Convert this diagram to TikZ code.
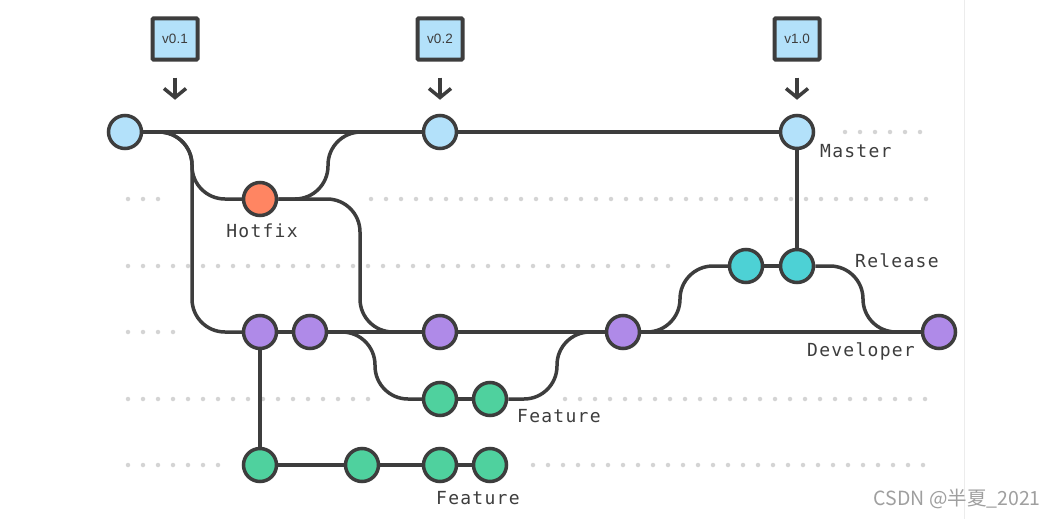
\documentclass[tikz,border=0pt]{standalone}
\usepackage{fontspec}
\setmainfont{Liberation Sans}
\newfontfamily\labfont[LetterSpace=7]{DejaVu Sans Mono}
\newfontfamily\cjk{Noto Sans CJK SC}
\usetikzlibrary{backgrounds,arrows.meta}
\definecolor{ink}{HTML}{3D3D3D}
\definecolor{cblue}{HTML}{B3E1FA}
\definecolor{corange}{HTML}{FF8562}
\definecolor{cpurple}{HTML}{AF8AE8}
\definecolor{cteal}{HTML}{4DD1D5}
\definecolor{cgreen}{HTML}{4FD19E}
\definecolor{cdot}{HTML}{D4D4D4}
\tikzset{
  commit/.style={circle, draw=ink, line width=3.5pt, minimum size=33pt, inner sep=0pt},
  cmaster/.style={commit, fill=cblue},
  chot/.style={commit, fill=corange},
  crel/.style={commit, fill=cteal},
  cdev/.style={commit, fill=cpurple},
  cfeat/.style={commit, fill=cgreen},
  edge/.style={draw=ink, line width=3.5pt, rounded corners=33pt},
  tagbox/.style={draw=ink, fill=cblue, line width=4pt, minimum width=45pt, minimum height=41pt, inner sep=0pt, font=\fontsize{13.5}{15}\selectfont, text=ink, rounded corners=1pt},
  tagarrow/.style={draw=ink, line width=3.5pt, -{Straight Barb[length=9pt, width=22pt, line width=3.5pt]}},
  lab/.style={font=\labfont\fontsize{18}{20}\selectfont, text=ink, inner sep=0pt},
  dots/.style={draw=cdot, line width=4.5pt, line cap=round, dash pattern=on 0pt off 15pt}
}
\begin{document}
\begin{tikzpicture}[x=1pt, y=-1pt]
\useasboundingbox (0,0) rectangle (1056,519);

% tags
\node[tagbox] (t1) at (175,39) {v0.1};
\node[tagbox] (t2) at (440,39) {v0.2};
\node[tagbox] (t3) at (797,39) {v1.0};

% commits
\node[cmaster] (m1) at (125,132) {};
\node[cmaster] (m2) at (440,132) {};
\node[cmaster] (m3) at (797,132) {};
\node[chot] (hf) at (260,199) {};
\node[crel] (r1) at (746,266) {};
\node[crel] (r2) at (797,266) {};
\node[cdev] (d1) at (260,332) {};
\node[cdev] (d2) at (310,332) {};
\node[cdev] (d3) at (440,332) {};
\node[cdev] (d4) at (623,332) {};
\node[cdev] (d5) at (939,332) {};
\node[cfeat] (fa1) at (440,399) {};
\node[cfeat] (fa2) at (490,399) {};
\node[cfeat] (fb1) at (260,465) {};
\node[cfeat] (fb2) at (362,465) {};
\node[cfeat] (fb3) at (440,465) {};
\node[cfeat] (fb4) at (490,465) {};

% labels
\node[lab, anchor=base west] (lmaster) at (820,157) {Master};
\node[lab, anchor=base] (lhotfix) at (262,237) {Hotfix};
\node[lab, anchor=base west] (lrelease) at (855,267) {Release};
\node[lab, anchor=base west] (ldev) at (807,356) {Developer};
\node[lab, anchor=base west] (lfeat1) at (517,422) {Feature};
\node[lab, anchor=base west] (lfeat2) at (436,504) {Feature};

% watermark
\node[anchor=east, inner sep=0pt, text=gray!75, font=\cjk\fontsize{19.5}{21}\selectfont] (wm) at (1041,499) {CSDN @半夏\_2021};

% arrows from tags
\draw[tagarrow, shorten <=16pt, shorten >=14pt] (t1.south) -- (t1.south |- m1.north);
\draw[tagarrow, shorten <=16pt, shorten >=14pt] (t2.south) -- (m2.north);
\draw[tagarrow, shorten <=16pt, shorten >=14pt] (t3.south) -- (m3.north);

\begin{scope}[on background layer]
\fill[white] (0,0) rectangle (1056,519);
\draw[line width=1pt, gray!15] (964,0) -- (964,519);
% dotted guides
\draw[dots] (845,132) -- (922,132);
\draw[dots] (128,199) -- (160,199);
\draw[dots] (371,199) -- (926,199);
\draw[dots] (128,266) -- (675,266);
\draw[dots] (128,332) -- (174,332);
\draw[dots] (128,399) -- (369,399);
\draw[dots] (565,399) -- (926,399);
\draw[dots] (128,465) -- (219,465);
\draw[dots] (533,465) -- (924,465);

% branches
\draw[edge] (m1) -- (m2) -- (m3);
\draw[edge] (m1) -- (192,132) -- (192,199) -- (hf);
\draw[edge] (m1) -- (192,132) -- (192,332) -- (d1);
\draw[edge] (hf) -- (328,199) -- (328,132) -- (m2);
\draw[edge] (hf) -- (360,199) -- (360,332) -- (d3);
\draw[edge] (d1) -- (d2) -- (d3) -- (d4) -- (d5);
\draw[edge] (d2) -- (375,332) -- (375,399) -- (fa1);
\draw[edge] (fa1) -- (fa2);
\draw[edge] (fa2) -- (557,399) -- (557,332) -- (d4);
\draw[edge] (d4) -- (680,332) -- (680,266) -- (r1);
\draw[edge] (r1) -- (r2);
\draw[edge] (r2) -- (863,266) -- (863,332) -- (d5);
\draw[edge] (m3) -- (r2);
\draw[edge] (d1) -- (fb1);
\draw[edge] (fb1) -- (fb2) -- (fb3) -- (fb4);
\end{scope}
\end{tikzpicture}
\end{document}
